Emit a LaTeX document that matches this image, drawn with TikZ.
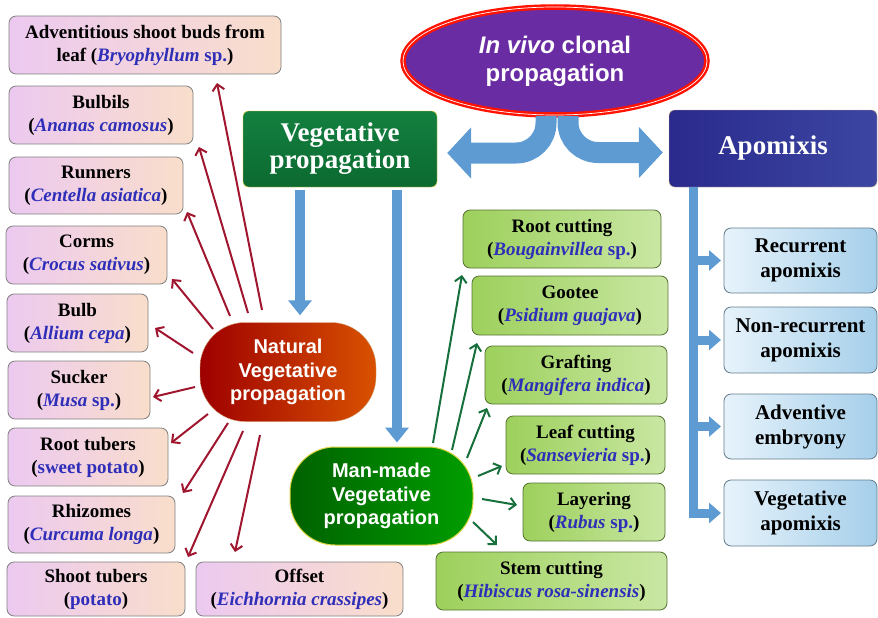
\documentclass[tikz,border=0pt]{standalone}
\usepackage{fontspec}
\setmainfont{Liberation Serif}
\setsansfont{Liberation Sans}
\usepackage{tikz}
\usetikzlibrary{arrows.meta,shapes.geometric}
\definecolor{speciesblue}{HTML}{2E2EB8}
\definecolor{pinkleft}{HTML}{ECC9F0}
\definecolor{peachright}{HTML}{F9DECB}
\definecolor{limeleft}{HTML}{9DD05C}
\definecolor{limeright}{HTML}{C9E7A3}
\definecolor{skyleft}{HTML}{E7F3FB}
\definecolor{skyright}{HTML}{A6CFEA}
\definecolor{arrowblue}{HTML}{5E9BD3}
\definecolor{natred}{HTML}{A0162F}
\definecolor{mangreen}{HTML}{17703C}
\definecolor{vivopurple}{HTML}{6A2CA2}
\definecolor{vegtop}{HTML}{138040}
\definecolor{vegbottom}{HTML}{0C6A30}
\definecolor{apoleft}{HTML}{2A2A8C}
\definecolor{aporight}{HTML}{3C46A2}
\newcommand{\species}[1]{\textcolor{speciesblue}{#1}}
\tikzset{
    smallbox/.style = {
        align=center,
        text centered,
        font=\fontsize{19}{23}\selectfont\bfseries,
        rectangle,
        rounded corners=2.5mm,
        line width=0.8pt,
        minimum height=58pt,
        inner sep=1mm,
        outer sep=0mm
    },
    pinkbox/.style = {
        smallbox,
        draw=black!50,
        left color=pinkleft,
        right color=peachright
    },
    limebox/.style = {
        smallbox,
        draw=black!45!limeleft,
        left color=limeleft,
        right color=limeright
    },
    skybox/.style = {
        smallbox,
        draw=black!40!skyright,
        left color=skyleft,
        right color=skyright,
        font=\fontsize{21}{25}\selectfont\bfseries,
        minimum width=153pt,
        minimum height=65pt
    },
    headbox/.style = {
        rectangle,
        rounded corners=2mm,
        align=center,
        text=white,
        font=\fontsize{27}{27}\selectfont\bfseries,
        inner sep=1mm
    },
    groupnode/.style = {
        rectangle,
        rounded corners=45pt,
        align=center,
        text=white,
        font=\sffamily\bfseries\fontsize{20}{23.5}\selectfont,
        inner sep=1mm
    },
    natarrow/.style = {
        draw=natred,
        line width=2pt,
        -{Straight Barb[length=6pt,width=12pt]}
    },
    manarrow/.style = {
        draw=mangreen,
        line width=2pt,
        -{Straight Barb[length=6pt,width=12pt]}
    },
    splitarrow/.style = {
        draw=arrowblue,
        line width=21pt,
        rounded corners=30pt,
        -{Triangle[width=50pt,length=24pt]}
    },
    downarrow/.style = {
        draw=arrowblue,
        line width=10pt,
        -{Triangle[width=23pt,length=15pt]}
    },
    apoarrow/.style = {
        draw=arrowblue,
        line width=9pt,
        -{Triangle[width=20pt,length=12pt]}
    }
}

\begin{document}
\begin{tikzpicture}[x=1pt,y=-1pt]
    \useasboundingbox (0,0) rectangle (878,618);

    % top level
    \node [ellipse, fill=vivopurple, draw=red!85!orange, line width=2.4pt,
           double=white, double distance=0.7pt, minimum width=304pt, minimum height=108pt,
           inner sep=0pt, align=center, text=white,
           font=\sffamily\bfseries\fontsize{24}{28}\selectfont] (invivo) at (555,61)
        {\textit{In vivo} clonal\\propagation};
    \node [headbox, top color=vegtop, bottom color=vegbottom, draw=yellow!60!brown,
           minimum width=194pt, minimum height=76pt] (veg) at (340,149)
        {Vegetative\\propagation};
    \node [headbox, left color=apoleft, right color=aporight, draw=brown!60,
           minimum width=208pt, minimum height=77pt] (apo) at (773,148.5) {Apomixis};

    % vegetative groups
    \node [groupnode, left color=red!62!black, right color=orange!75!red!85!black, draw=brown!70,
           minimum width=176pt, minimum height=99pt] (nat) at (288,372)
        {Natural\\Vegetative\\propagation};
    \node [groupnode, left color=green!38!black, right color=green!62!black, draw=yellow!70!gray,
           line width=1pt, minimum width=183pt, minimum height=98pt] (man) at (381.5,496)
        {Man-made\\Vegetative\\propagation};

    % natural
    \node [pinkbox, minimum width=272pt] (adv) at (145,45)
        {Adventitious shoot buds from\\leaf (\species{\textit{Bryophyllum} sp.})};
    \node [pinkbox, minimum width=184pt] (bulbils) at (101,115)
        {Bulbils\\(\species{\textit{Ananas camosus}})};
    \node [pinkbox, minimum width=174pt, minimum height=57pt] (runners) at (96,185.5)
        {Runners\\(\species{\textit{Centella asiatica}})};
    \node [pinkbox, minimum width=161pt] (corms) at (86.5,255)
        {Corms\\(\species{\textit{Crocus sativus}})};
    \node [pinkbox, minimum width=141pt] (bulb) at (77.5,323)
        {Bulb\\(\species{\textit{Allium cepa}})};
    \node [pinkbox, minimum width=142pt] (sucker) at (79,390)
        {Sucker\\(\species{\textit{Musa} sp.})};
    \node [pinkbox, minimum width=160pt] (roottub) at (88,457)
        {Root tubers\\(\species{sweet potato})};
    \node [pinkbox, minimum width=167pt, minimum height=57pt] (rhiz) at (91.5,524.5)
        {Rhizomes\\(\species{\textit{Curcuma longa}})};
    \node [pinkbox, minimum width=178pt, minimum height=54pt] (shoot) at (96,589)
        {Shoot tubers\\(\species{potato})};
    \node [pinkbox, minimum width=207pt, minimum height=54pt] (offset) at (299.5,589)
        {Offset\\(\species{\textit{Eichhornia crassipes}})};

    % man-made
    \node [limebox, minimum width=198pt] (rootcut) at (562,239)
        {Root cutting\\(\species{\textit{Bougainvillea} sp.})};
    \node [limebox, minimum width=196pt, minimum height=59pt] (gootee) at (570,305.5)
        {Gootee\\(\species{\textit{Psidium guajava}})};
    \node [limebox, minimum width=182pt] (graft) at (576,375)
        {Grafting\\(\species{\textit{Mangifera indica}})};
    \node [limebox, minimum width=159pt] (leafcut) at (585.5,445)
        {Leaf cutting\\(\species{\textit{Sansevieria} sp.})};
    \node [limebox, minimum width=142pt] (layer) at (594,512)
        {Layering\\(\species{\textit{Rubus} sp.})};
    \node [limebox, minimum width=231pt] (stemcut) at (551.5,581)
        {Stem cutting\\(\species{\textit{Hibiscus rosa-sinensis}})};

    % apomixis
    \node [skybox] (recur) at (800.5,260.5) {Recurrent\\apomixis};
    \node [skybox, minimum height=66pt] (nonrec) at (800.5,340) {Non-recurrent\\apomixis};
    \node [skybox] (advemb) at (800.5,426.5) {Adventive\\embryony};
    \node [skybox, minimum height=66pt] (vegapo) at (800.5,513) {Vegetative\\apomixis};

    % connectors
    \draw [splitarrow] ([xshift=-9pt]invivo.south) |- ([shift={(10,4)}]veg.east);
    \draw [splitarrow] ([xshift=13pt]invivo.south) |- ([shift={(-6,4)}]apo.west);

    \draw [downarrow, shorten <=3pt, shorten >=7pt] ([xshift=-40pt]veg.south)
        -- ([xshift=-40pt]veg.south |- nat.north);
    \draw [downarrow, shorten <=3pt, shorten >=4pt] ([xshift=57pt]veg.south)
        -- ([xshift=57pt]veg.south |- man.north);

    \foreach \sx/\sy/\t/\ex/\ey in {
        -26/-62/adv.south/72/9,
        -40/-59/bulbils.south east/6/3,
        -58/-56/runners.south east/4/-2,
        -75/-43/corms.south east/5/-5,
        -95/-19/bulb.east/7/5,
        -93/15/sucker.east/3/7,
        -80/42/roottub.north east/3/15,
        -60/51/rhiz.north east/8/-3,
        -45/59/shoot.north east/3/-5,
        -28/63/offset.north west/39/-10}
        \draw [natarrow] ([shift={(\sx,\sy)}]nat.center) -- ([shift={(\ex,\ey)}]\t);

    \foreach \sx/\sy/\t/\ex/\ey in {
        51.5/-53/rootcut.south west/-1/7,
        70.5/-46/gootee.south west/5/8,
        85.5/-38/graft.south west/2/4,
        96.5/-20/leafcut.south west/-4/-8,
        100.5/3/layer.west/-6/-7,
        91.5/26/stemcut.north west/61/-7}
        \draw [manarrow] ([shift={(\sx,\sy)}]man.center) -- ([shift={(\ex,\ey)}]\t);

    \coordinate (bar) at ([xshift=25pt]apo.south west);
    \draw [apoarrow] (bar) |- ([xshift=-3pt]vegapo.west);
    \foreach \n in {recur,nonrec,advemb}
        \draw [apoarrow] (bar |- \n.west) -- ([xshift=-3pt]\n.west);
\end{tikzpicture}
\end{document}
